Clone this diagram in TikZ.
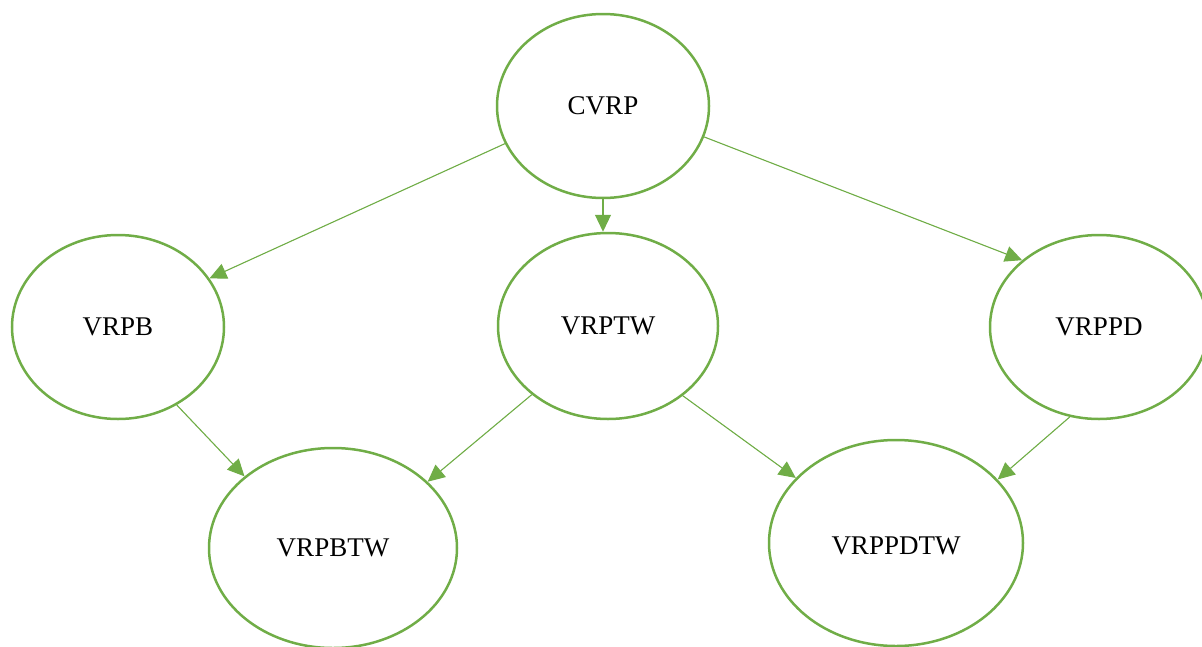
\documentclass[tikz,border=0pt]{standalone}
\usepackage{fontspec}
\setmainfont{Liberation Serif}
\usetikzlibrary{shapes.geometric,arrows.meta}
\definecolor{ogreen}{HTML}{70AD47}
\begin{document}
\begin{tikzpicture}[x=1pt,y=-1pt,
  ell/.style={ellipse,draw=ogreen,line width=2.5pt,inner sep=0pt,font=\fontsize{27}{32}\selectfont},
  conn/.style={draw=ogreen,line width=1.1pt,-{Triangle[length=17pt,width=16pt]},fill=ogreen}]
\clip (0,0) rectangle (1202,646);
\useasboundingbox (0,0) rectangle (1202,646);
\node[ell,minimum width=212pt,minimum height=184pt] (cvrp) at (603,106) {CVRP};
\node[ell,minimum width=212pt,minimum height=184pt] (vrpb) at (118,327) {VRPB};
\node[ell,minimum width=220pt,minimum height=186pt] (vrptw) at (608,326) {VRPTW};
\node[ell,minimum width=218pt,minimum height=184pt] (vrppd) at (1099,327) {VRPPD};
\node[ell,minimum width=248pt,minimum height=200pt] (vrpbtw) at (333,548) {VRPBTW};
\node[ell,minimum width=254pt,minimum height=206pt,text height=24pt] (vrppdtw) at (896,543) {VRPPDTW};
\draw[conn] (cvrp.201.1) -- (vrpb.28);
\draw[conn] (cvrp.south) -- (cvrp.south |- vrptw.north);
\draw[conn] (cvrp.343.6) -- (vrppd.139.8);
\draw[conn] (vrpb.307.8) -- (vrpbtw.141.8);
\draw[conn] (vrptw.222.3) -- (vrpbtw.35.1);
\draw[conn] (vrptw.317.7) -- (vrppdtw.147.3);
\draw[conn] (vrppd.252.7) -- (vrppdtw.32.4);
\end{tikzpicture}
\end{document}
